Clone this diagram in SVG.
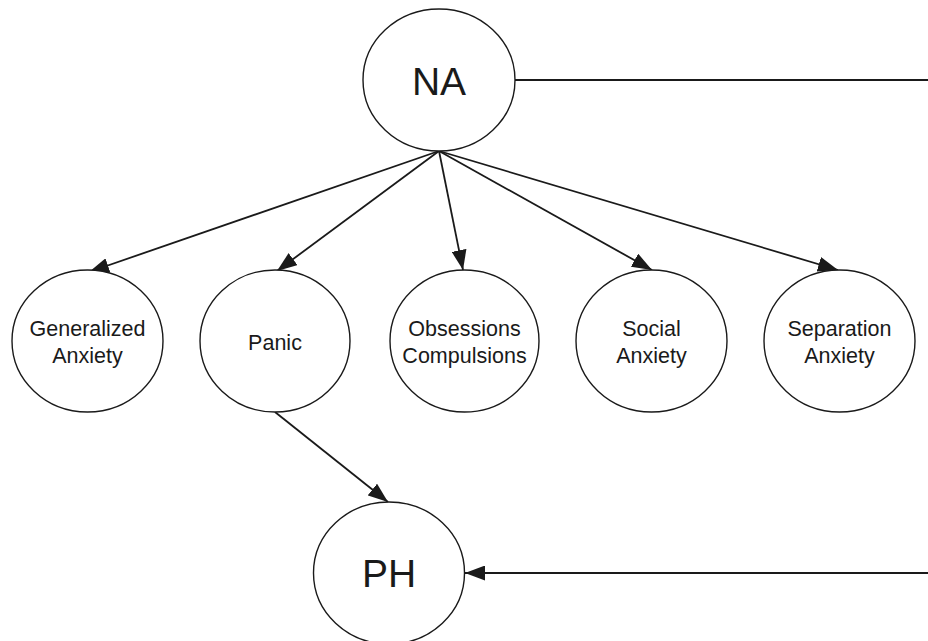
<svg xmlns="http://www.w3.org/2000/svg" width="928" height="641" viewBox="0 0 928 641">
<defs>
<marker id="ah" viewBox="0 0 20 15" refX="20" refY="7.5" markerWidth="20" markerHeight="15" markerUnits="userSpaceOnUse" orient="auto">
<path d="M0,0 L20,7.5 L0,15 Z" fill="#1a1a1a"/>
</marker>
</defs>
<style>
ellipse{fill:#fff;stroke:#1a1a1a;stroke-width:1.4}
.edge{stroke:#1a1a1a;stroke-width:1.8;fill:none}
text{font-family:"Liberation Sans",Arial,sans-serif;fill:#1a1a1a;text-anchor:middle}
.big{font-size:39px}
.sm{font-size:21.5px}
</style>
<rect width="928" height="641" fill="#fff"/>
<g id="connectors">
<line class="edge" x1="515" y1="80" x2="928" y2="80"/>
<line class="edge" x1="439" y1="151" x2="89" y2="272" marker-end="url(#ah)"/>
<line class="edge" x1="439" y1="151" x2="277" y2="271" marker-end="url(#ah)"/>
<line class="edge" x1="439" y1="151" x2="463" y2="270" marker-end="url(#ah)"/>
<line class="edge" x1="439" y1="151" x2="652" y2="270" marker-end="url(#ah)"/>
<line class="edge" x1="439" y1="151" x2="838" y2="270" marker-end="url(#ah)"/>
<line class="edge" x1="275" y1="412" x2="388" y2="502" marker-end="url(#ah)"/>
<line class="edge" x1="928" y1="573" x2="465" y2="573" marker-end="url(#ah)"/>
</g>
<g id="NA">
<ellipse cx="439" cy="80" rx="76" ry="71"/>
<text class="big" x="439" y="95">NA</text>
</g>
<g id="GA">
<ellipse cx="87.5" cy="341" rx="75.5" ry="71"/>
<text class="sm" x="87.5" y="336">Generalized</text>
<text class="sm" x="87.5" y="363">Anxiety</text>
</g>
<g id="Panic">
<ellipse cx="275" cy="341" rx="75" ry="71"/>
<text class="sm" x="275" y="350">Panic</text>
</g>
<g id="OC">
<ellipse cx="464.5" cy="341" rx="74.5" ry="71"/>
<text class="sm" x="464.5" y="336">Obsessions</text>
<text class="sm" x="464.5" y="363">Compulsions</text>
</g>
<g id="SA">
<ellipse cx="651.5" cy="341" rx="75.5" ry="71"/>
<text class="sm" x="651.5" y="336">Social</text>
<text class="sm" x="651.5" y="363">Anxiety</text>
</g>
<g id="SepA">
<ellipse cx="839.5" cy="341" rx="75.5" ry="71"/>
<text class="sm" x="839.5" y="336">Separation</text>
<text class="sm" x="839.5" y="363">Anxiety</text>
</g>
<g id="PH">
<ellipse cx="389" cy="573" rx="75.5" ry="71"/>
<text class="big" x="389" y="587">PH</text>
</g>
</svg>
